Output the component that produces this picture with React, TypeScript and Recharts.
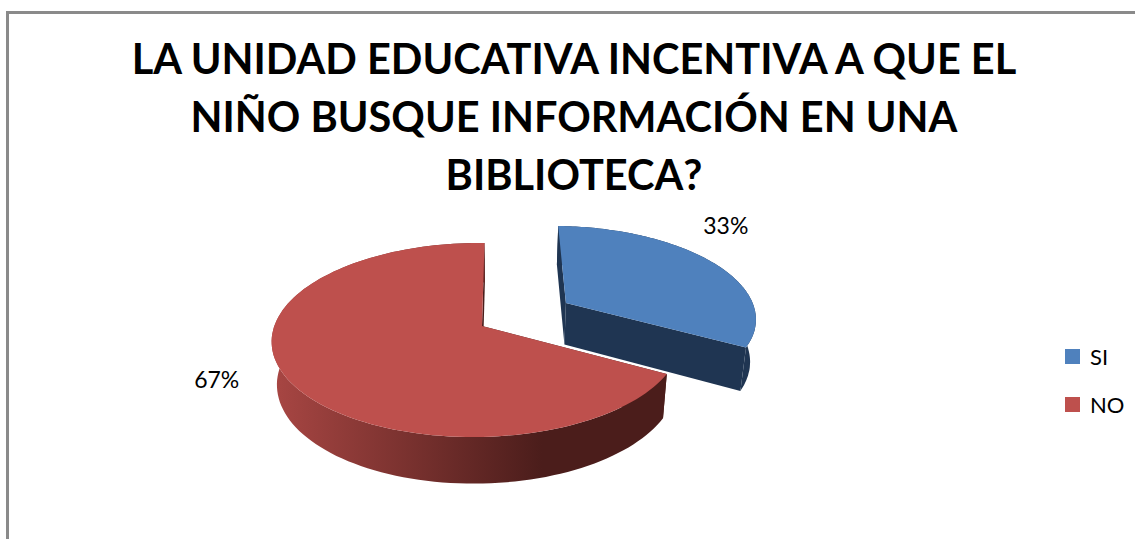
import { PieChart, Pie, Cell, Legend } from 'recharts';

const titleLines = [
  'LA UNIDAD EDUCATIVA INCENTIVA A QUE EL',
  'NIÑO BUSQUE INFORMACIÓN EN UNA',
  'BIBLIOTECA?',
];
const categories = ['SI', 'NO'];
const shares = [33, 67];
const topColors = ['#4F81BD', '#BE504D'];
const sideColors = ['#1F3552', '#4B1D1B'];
const wallColors = ['#1F3552', 'url(#redWall)'];
const exploded = [0.5, 0];

const chartData = categories.map((name, i) => ({ name, value: shares[i] }));

// fake 3d pie: the sector angles come from recharts, we only project them
const FONT = 'Lato, sans-serif';
const RY = 95;
const PERSP_V = 0.144;
const PERSP_U = 0.025;
const VANISH_DX = 20;
const DEPTH = 42.5;
const DEPTH_GROW = 0.037;
const BOTTOM_SHRINK = 0.977;
const RAD = Math.PI / 180;

function project(cx: number, cy: number, r: number, u: number, v: number) {
  const d = 1 + PERSP_V * v + PERSP_U * u;
  return { x: cx + VANISH_DX + (r * u - VANISH_DX) / d, y: cy - (RY * v) / d };
}

function lower(p: { x: number; y: number }, cx: number, cy: number) {
  const vx = cx + VANISH_DX;
  return { x: vx + (p.x - vx) * BOTTOM_SHRINK, y: p.y + DEPTH + DEPTH_GROW * (p.y - cy) };
}

function toPath(points: { x: number; y: number }[]) {
  return points.map((p, i) => `${i ? 'L' : 'M'}${p.x.toFixed(1)} ${p.y.toFixed(1)}`).join(' ') + ' Z';
}

function PieSlice3D(props: any) {
  const { cx, cy, outerRadius, startAngle, endAngle, midAngle, index } = props;
  const ex = exploded[index] * Math.cos(midAngle * RAD);
  const ey = exploded[index] * Math.sin(midAngle * RAD);
  const apex = project(cx, cy, outerRadius, ex, ey);
  const arc: { x: number; y: number }[] = [];
  const steps = 120;
  for (let i = 0; i <= steps; i++) {
    const a = (startAngle + ((endAngle - startAngle) * i) / steps) * RAD;
    arc.push(project(cx, cy, outerRadius, ex + Math.cos(a), ey + Math.sin(a)));
  }
  const arcLow = arc.map((p) => lower(p, cx, cy));
  const apexLow = lower(apex, cx, cy);
  const first = arc[0];
  const last = arc[steps];
  return (
    <g>
      <path d={toPath([first, apex, apexLow, arcLow[0]])} fill={sideColors[index]} />
      <path d={toPath([last, apex, apexLow, arcLow[steps]])} fill={sideColors[index]} />
      <path d={toPath([...arc, ...[...arcLow].reverse()])} fill={wallColors[index]} />
      <path d={toPath([apex, ...arc])} fill={topColors[index]} />
    </g>
  );
}

const labelNudge = [
  { x: -20, y: -28 },
  { x: -16, y: -16 },
];

function renderPercent(props: any) {
  const { cx, cy, outerRadius, midAngle, percent, index } = props;
  const ex = exploded[index] * Math.cos(midAngle * RAD);
  const ey = exploded[index] * Math.sin(midAngle * RAD);
  const p = project(cx, cy, outerRadius, ex + 1.25 * Math.cos(midAngle * RAD), ey + 1.25 * Math.sin(midAngle * RAD));
  return (
    <text
      x={p.x + labelNudge[index].x}
      y={p.y + labelNudge[index].y}
      textAnchor="middle"
      dominantBaseline="central"
      fontFamily={FONT}
      fontSize={23}
      fill="#000"
    >
      {`${Math.round(percent * 100)}%`}
    </text>
  );
}

function LegendList({ payload }: any) {
  return (
    <div>
      {(payload || []).map((item: any) => (
        <div
          key={item.value}
          style={{ display: 'flex', alignItems: 'center', height: 48, fontFamily: FONT, fontSize: 22, color: '#000' }}
        >
          <span style={{ width: 15, height: 15, background: item.color, marginRight: 10 }} />
          {item.value}
        </div>
      ))}
    </div>
  );
}

export default function App() {
  return (
    <div style={{ position: 'fixed', left: 0, top: 0, width: 1135, height: 539, overflow: 'hidden', background: '#fff' }}>
      <div
        style={{
          position: 'absolute',
          left: 6,
          top: 11,
          width: 1200,
          height: 600,
          borderLeft: '3px solid #8A8A8A',
          borderTop: '3px solid #8A8A8A',
        }}
      />
      <PieChart
        width={1135}
        height={539}
        margin={{ top: 0, right: 0, bottom: 0, left: 0 }}
        style={{ position: 'absolute', left: 0, top: 0 }}
      >
        <defs>
          <linearGradient id="redWall" gradientUnits="userSpaceOnUse" x1="273" y1="0" x2="663" y2="0">
            <stop offset="0" stopColor="#A84643" />
            <stop offset="0.69" stopColor="#4B1D1B" />
            <stop offset="1" stopColor="#4B1D1B" />
          </linearGradient>
        </defs>
        {titleLines.map((line, i) => (
          <text
            key={line}
            x={574}
            y={74 + i * 58}
            textAnchor="middle"
            fontFamily={FONT}
            fontWeight={700}
            fontSize={41.5}
            fill="#000"
          >
            {line}
          </text>
        ))}
        <Pie
          data={chartData}
          dataKey="value"
          nameKey="name"
          cx={482}
          cy={326}
          outerRadius={202}
          startAngle={90}
          endAngle={-270}
          stroke="none"
          shape={PieSlice3D}
          label={renderPercent}
          labelLine={false}
          isAnimationActive={false}
        >
          {categories.map((name, i) => (
            <Cell key={name} fill={topColors[i]} />
          ))}
        </Pie>
        <Legend
          layout="vertical"
          align="right"
          verticalAlign="top"
          itemSorter={null}
          content={<LegendList />}
          wrapperStyle={{ left: 1065, top: 332, width: 70 }}
        />
      </PieChart>
    </div>
  );
}
